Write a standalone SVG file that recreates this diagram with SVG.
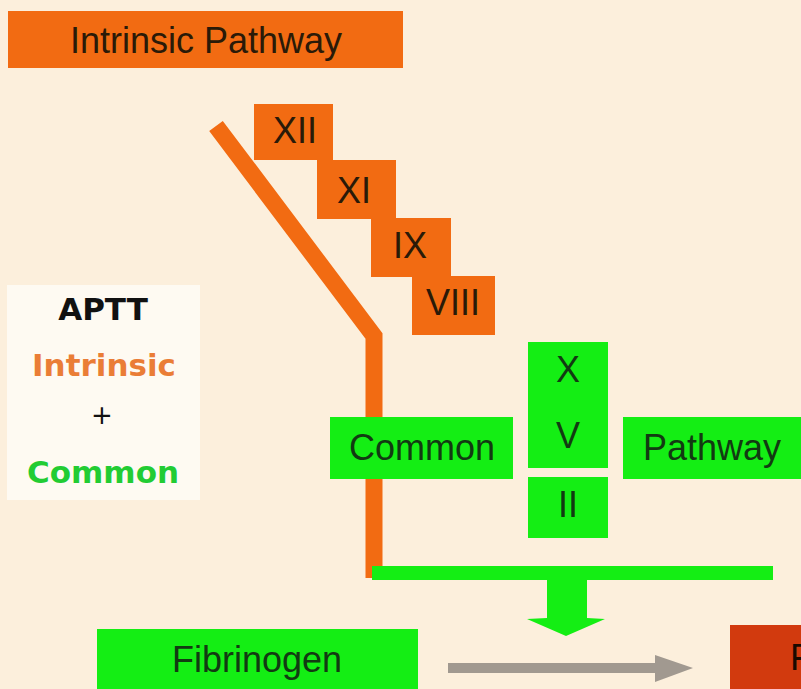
<svg xmlns="http://www.w3.org/2000/svg" width="801" height="689" viewBox="0 0 801 689">
<style>
.bg{fill:#fcefdc}
.or{fill:#f26b12}
.gr{fill:#14ee14}
.lbl{font-family:"Liberation Sans",Arial,sans-serif;font-size:36px;fill:#2a1a08;text-anchor:middle}
.glbl{font-family:"Liberation Sans",Arial,sans-serif;font-size:36px;fill:#123a12;text-anchor:middle}
.big{font-family:"DejaVu Sans",Verdana,sans-serif;font-weight:bold;font-size:31px;text-anchor:middle}
</style>
<rect class="bg" x="0" y="0" width="801" height="689"/>
<g id="connectors">
<polyline points="216,126 374,336 374,578" fill="none" stroke="#f26b12" stroke-width="17" stroke-linejoin="miter"/>
<rect x="372" y="566" width="401" height="14" fill="#14ee14"/>
<polygon points="547,578 587,578 587,618 605,619 566,636 527,619 547,618" fill="#14ee14"/>
<line x1="448" y1="668" x2="664" y2="668" stroke="#a19990" stroke-width="10"/>
<polygon points="655,655 693,668 655,682" fill="#a19990"/>
</g>
<g id="intrinsic-pathway"><rect class="or" x="8" y="11" width="395" height="57"/><text class="lbl" x="206" y="53">Intrinsic Pathway</text></g>
<g id="xii"><rect class="or" x="254" y="104" width="79" height="56"/><text class="lbl" x="295" y="143">XII</text></g>
<g id="xi"><rect class="or" x="317" y="160" width="79" height="59"/><text class="lbl" x="354" y="203">XI</text></g>
<g id="ix"><rect class="or" x="371" y="218" width="80" height="59"/><text class="lbl" x="410" y="258">IX</text></g>
<g id="viii"><rect class="or" x="412" y="276" width="83" height="59"/><text class="lbl" x="453" y="315">VIII</text></g>
<g id="aptt"><rect x="7" y="285" width="193" height="215" fill="#fefaf2"/>
<text class="big" x="103" y="320" fill="#111">APTT</text>
<text class="big" x="104" y="376" fill="#ea7d36">Intrinsic</text>
<text class="big" x="102" y="424" fill="#111" style="font-weight:normal;font-size:26px">+</text>
<text class="big" x="103" y="483" fill="#22cc33">Common</text></g>
<g id="common"><rect class="gr" x="330" y="417" width="183" height="62"/><text class="glbl" x="422" y="460">Common</text></g>
<g id="xv"><rect class="gr" x="528" y="342" width="80" height="126"/><text class="glbl" x="568" y="382">X</text><text class="glbl" x="568" y="448">V</text></g>
<g id="ii"><rect class="gr" x="528" y="477" width="80" height="61"/><text class="glbl" x="568" y="517">II</text></g>
<g id="pathway"><rect class="gr" x="623" y="417" width="190" height="62"/><text class="glbl" x="712" y="460">Pathway</text></g>
<g id="fibrinogen"><rect class="gr" x="97" y="629" width="321" height="70"/><text class="glbl" x="257" y="672">Fibrinogen</text></g>
<g id="fibrin"><rect x="730" y="625" width="80" height="70" fill="#d23a0e"/><text class="lbl" x="790" y="670" style="text-anchor:start;fill:#1a0a00">Fibrin</text></g>
</svg>
